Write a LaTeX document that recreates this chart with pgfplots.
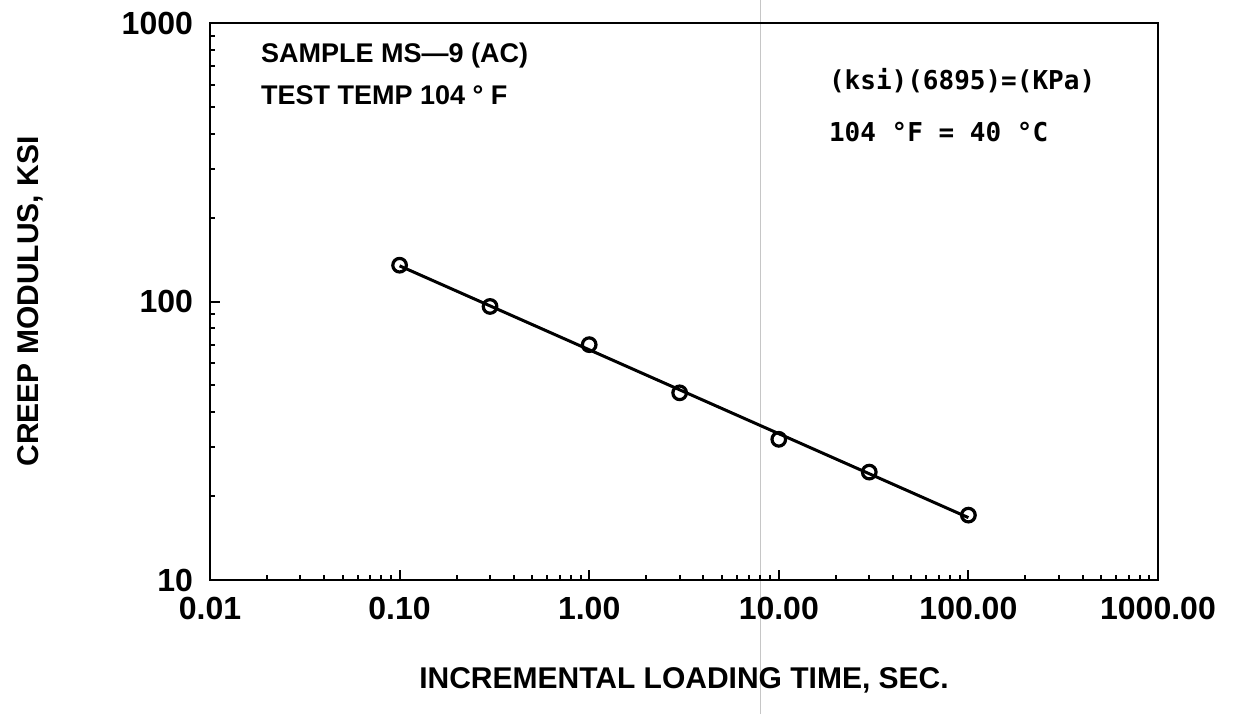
\documentclass[border=0pt]{standalone}
\usepackage{pgfplots}
\pgfplotsset{compat=1.18}
\usepackage{fontspec}
\setmainfont{Liberation Sans}
\newfontfamily\annomono{DejaVu Sans Mono}
\begin{document}
\begin{tikzpicture}[x=1pt,y=1pt]
\useasboundingbox (0,0) rectangle (619,357);
\draw[gray!45, line width=0.4pt] (380,0) -- (380,357);
\begin{axis}[
  at={(105pt,67pt)}, anchor=south west,
  width=474pt, height=278.5pt, scale only axis,
  xmode=log, ymode=log,
  xmin=0.01, xmax=1000, ymin=10, ymax=1000,
  xtick={0.01,0.1,1,10,100,1000},
  xticklabels={0.01,0.10,1.00,10.00,100.00,1000.00},
  ytick={10,100,1000}, yticklabels={10,100,1000},
  tick align=inside, xtick pos=bottom, ytick pos=left,
  major tick length=5pt, minor tick length=2.5pt,
  every tick/.style={black, line width=1pt},
  axis line style={line width=1.3pt},
  ticklabel style={font=\fontsize{16}{16}\selectfont\bfseries},
  xticklabel style={yshift=-5pt},
  yticklabel style={xshift=-5pt},
  xlabel={INCREMENTAL LOADING TIME, SEC.},
  ylabel={CREEP MODULUS, KSI},
  label style={font=\fontsize{15}{15}\selectfont\bfseries},
  xlabel style={at={(axis description cs:0.5,-0.18)}, anchor=center},
  ylabel style={at={(axis description cs:-0.19,0.5)}, anchor=center},
  clip=false,
]
\addplot[black, line width=1.5pt] coordinates {(0.1,134.3) (100,16.75)};
\addplot[only marks, mark=o, mark size=3.4pt, mark options={line width=1.6pt, fill=white}, black]
  coordinates {(0.1,135) (0.3,96) (1,70) (3,47) (10,32) (30,24.4) (100,17.1)};
\end{axis}
\node[anchor=base west, font=\fontsize{13.5}{13.5}\selectfont\bfseries] at (127,325.5) {SAMPLE MS—9 (AC)};
\node[anchor=base west, font=\fontsize{13.5}{13.5}\selectfont\bfseries] at (127,304.5) {TEST TEMP 104 ° F};
\node[anchor=base west, font=\annomono\fontsize{13}{13}\selectfont\bfseries] at (411,312) {(ksi)(6895)=(KPa)};
\node[anchor=base west, font=\annomono\fontsize{13}{13}\selectfont\bfseries] at (411,286) {104 °F = 40 °C};
\end{tikzpicture}
\end{document}
